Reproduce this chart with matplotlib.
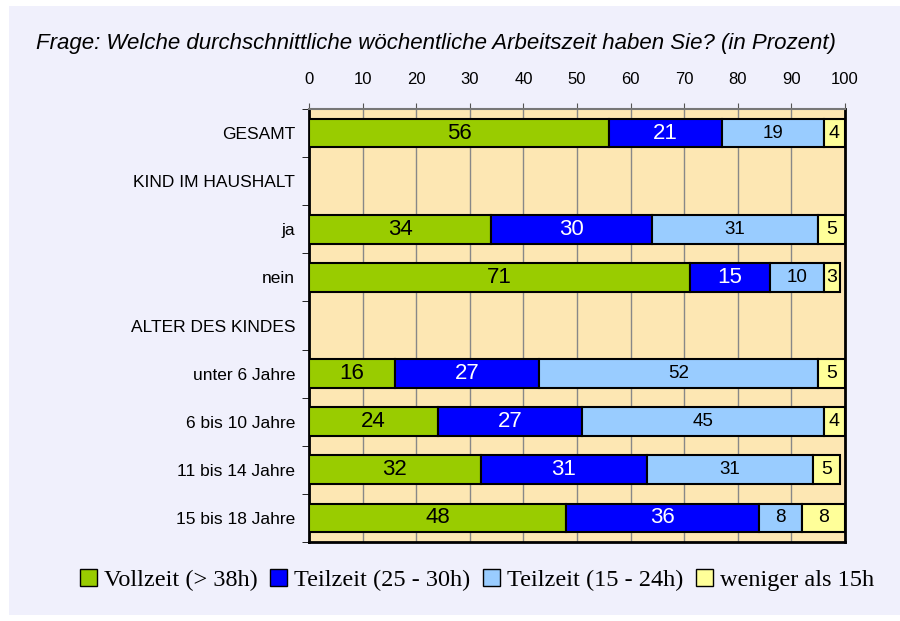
import numpy as np
import matplotlib.pyplot as plt
from matplotlib.patches import Rectangle

categories = ["GESAMT", "KIND IM HAUSHALT", "ja", "nein", "ALTER DES KINDES",
              "unter 6 Jahre", "6 bis 10 Jahre", "11 bis 14 Jahre", "15 bis 18 Jahre"]
vollzeit = [56, 0, 34, 71, 0, 16, 24, 32, 48]
teilzeit_25_30 = [21, 0, 30, 15, 0, 27, 27, 31, 36]
teilzeit_15_24 = [19, 0, 31, 10, 0, 52, 45, 31, 8]
weniger_15 = [4, 0, 5, 3, 0, 5, 4, 5, 8]
series_names = ["Vollzeit (> 38h)", "Teilzeit (25 - 30h)", "Teilzeit (15 - 24h)", "weniger als 15h"]
colors = ["#99CC00", "#0000FF", "#99CCFF", "#FFFF99"]
text_colors = ["black", "white", "black", "black"]
label_sizes = [16, 16, 13.5, 14]
ticks = list(range(0, 101, 10))

fig = plt.figure(figsize=(9, 6.21), dpi=100, facecolor="white")
fig.patches.append(Rectangle((9 / 900, 0.01), 1, 0.98, transform=fig.transFigure,
                             facecolor="#F0F0FC", edgecolor="none", zorder=-10))

ax = fig.add_axes([309 / 900, 1 - 542 / 621, 536 / 900, 433 / 621])
ax.set_facecolor("#FDE7B3")

y = np.arange(len(categories))
left = np.zeros(len(categories))
data = [vollzeit, teilzeit_25_30, teilzeit_15_24, weniger_15]
for vals, name, col, tc, fs in zip(data, series_names, colors, text_colors, label_sizes):
    vals = np.array(vals, dtype=float)
    keep = vals > 0
    bars = ax.barh(y[keep], vals[keep], left=left[keep], height=0.6, color=col,
                   edgecolor="black", linewidth=1.5, label=name, zorder=3)
    for b, v in zip(bars, vals[keep]):
        ax.text(b.get_x() + b.get_width() / 2, b.get_y() + b.get_height() / 2,
                f"{int(v)}", ha="center", va="center", color=tc, fontsize=fs,
                family="Liberation Sans", zorder=4)
    left += vals

ax.set_xlim(0, 100)
ax.set_ylim(len(categories) - 0.5, -0.5)
ax.xaxis.tick_top()
ax.set_xticks(ticks)
ax.set_xticklabels([str(t) for t in ticks], fontsize=12, family="Liberation Sans")
ax.tick_params(axis="x", direction="out", length=4, color="#555555", pad=12)
ax.set_yticks(y)
ax.set_yticklabels(categories, fontsize=12.5, family="Liberation Sans")
ax.tick_params(axis="y", length=0, pad=10)
ax.set_yticks(np.arange(-0.5, len(categories), 1), minor=True)
ax.tick_params(axis="y", which="minor", direction="out", length=5, color="black")
ax.grid(axis="x", color="#888888", linewidth=1, zorder=1)
ax.set_axisbelow(True)
ax.spines["top"].set_color("#777777")
ax.spines["top"].set_linewidth(1.5)
for side in ["left", "right", "bottom"]:
    ax.spines[side].set_color("black")
    ax.spines[side].set_linewidth(2)

fig.text(36 / 900, 1 - 43 / 621, "Frage: Welche durchschnittliche wöchentliche Arbeitszeit haben Sie? (in Prozent)",
         fontsize=16, style="italic", family="Liberation Sans", va="center", ha="left")

leg = fig.legend(loc="center", bbox_to_anchor=(477 / 900, 1 - 580 / 621), ncol=4,
                 frameon=False, prop={"family": "Liberation Serif", "size": 17.5},
                 handlelength=0.7, handleheight=0.7, handletextpad=0.3, columnspacing=0.5)
for h in leg.legend_handles:
    h.set_linewidth(1)

fig.savefig("out.png", dpi=100, facecolor=fig.get_facecolor())
